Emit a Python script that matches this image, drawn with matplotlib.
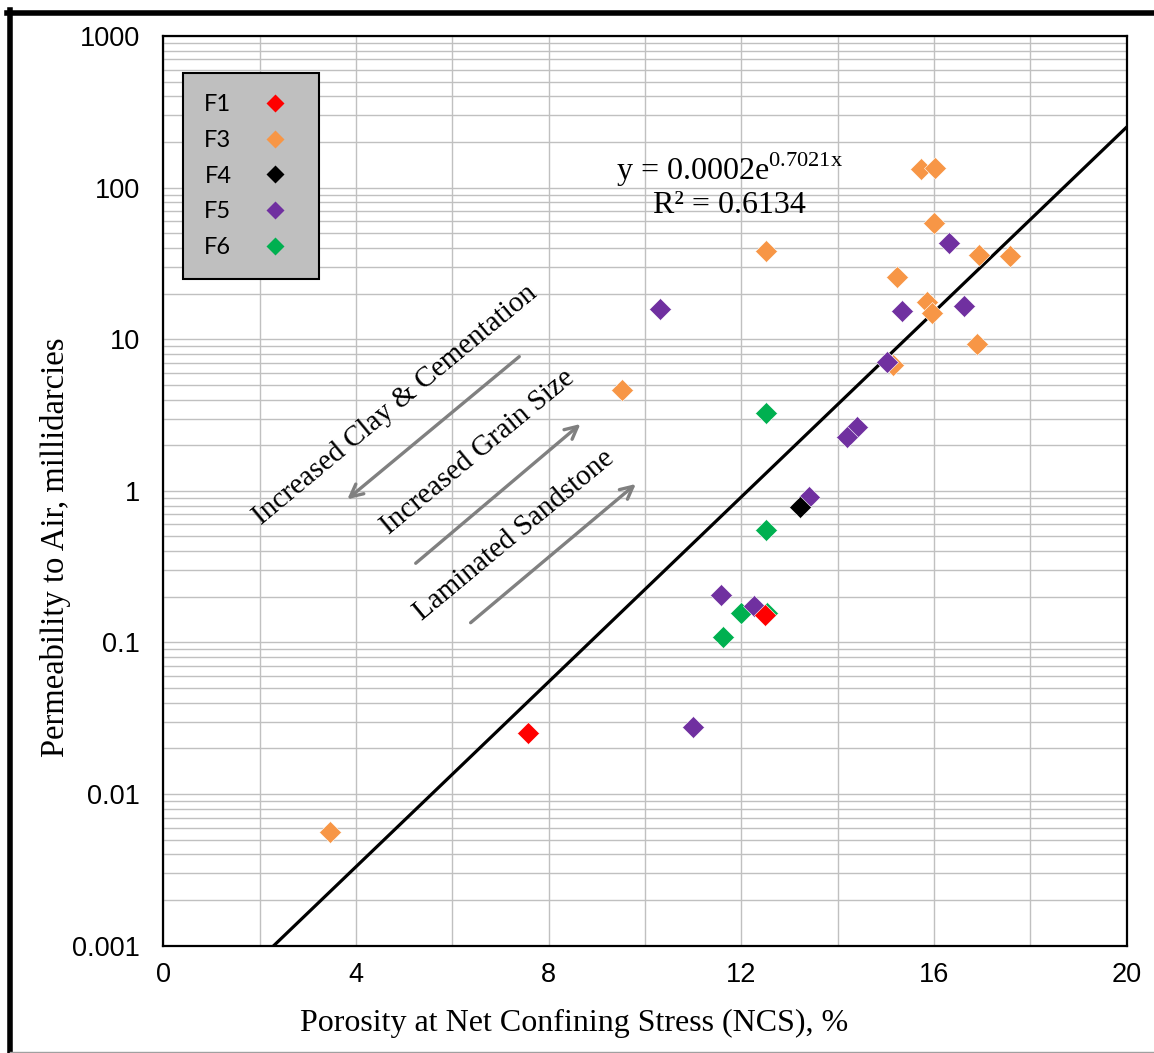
import numpy as np
import matplotlib
matplotlib.use("Agg")
import matplotlib.pyplot as plt
from matplotlib.lines import Line2D

# ---------------- data ----------------
f1_x = [12.49, 7.57]
f1_y = [0.152, 0.0253]

f3_x = [3.46, 9.52, 12.51, 15.23, 15.15, 15.74, 16.03, 15.99, 15.85, 15.96, 16.93, 17.58, 16.90]
f3_y = [0.00562, 4.63, 38.4, 25.6, 6.76, 132, 134, 58.2, 17.5, 14.9, 36.0, 35.6, 9.27]

f4_x = [13.22]
f4_y = [0.78]

f5_x = [10.31, 15.33, 16.32, 16.62, 15.03, 14.41, 14.19, 13.40, 11.57, 12.26, 11.00]
f5_y = [15.8, 15.4, 43.4, 16.6, 7.11, 2.65, 2.26, 0.916, 0.206, 0.175, 0.0279]

f6_x = [12.51, 12.51, 11.99, 12.53, 11.62]
f6_y = [3.25, 0.552, 0.157, 0.157, 0.109]

series_names = ["F1", "F3", "F4", "F5", "F6"]
series_colors = ["#FF0000", "#F79646", "#000000", "#7030A0", "#00B050"]

trend_a = 0.0002
trend_b = 0.7021
trend_r2 = 0.6134

x_ticks = [0, 4, 8, 12, 16, 20]
y_ticks = [0.001, 0.01, 0.1, 1, 10, 100, 1000]
y_tick_labels = ["0.001", "0.01", "0.1", "1", "10", "100", "1000"]

# ---------------- figure ----------------
W, H = 1154, 1053
fig = plt.figure(figsize=(W / 100, H / 100), dpi=100)
ax = fig.add_axes([163.3 / W, 1 - 945.7 / H, 963.4 / W, 909.7 / H])

serif = "Liberation Serif"
sans = "Liberation Sans"
plt.rcParams["mathtext.fontset"] = "custom"
plt.rcParams["mathtext.rm"] = serif

ax.set_yscale("log")
ax.set_xlim(0, 20)
ax.set_ylim(0.001, 1000)

# grid
ax.set_xticks(x_ticks)
ax.set_xticks([2, 6, 10, 14, 18], minor=True)
ax.set_yticks(y_ticks)
ax.set_yticklabels(y_tick_labels)
ax.yaxis.set_minor_locator(matplotlib.ticker.LogLocator(base=10, subs=np.arange(2, 10), numticks=50))
ax.yaxis.set_minor_formatter(matplotlib.ticker.NullFormatter())
ax.grid(True, which="both", color="#C0C0C0", linewidth=1.0, zorder=0)
ax.set_axisbelow(True)
ax.tick_params(which="both", length=0)
ax.tick_params(axis="y", pad=17, labelsize=19.5)
ax.tick_params(axis="x", pad=12, labelsize=19.5)
for lab in ax.get_xticklabels() + ax.get_yticklabels():
    lab.set_fontfamily(sans)
for sp in ax.spines.values():
    sp.set_linewidth(1.6)
    sp.set_color("black")

# trend line
xt = np.linspace(0, 20, 400)
ax.plot(xt, trend_a * np.exp(trend_b * xt), color="black", lw=2.3, zorder=2)

# series (drawn so that overlaps resemble the original)
data = {
    "F1": (f1_x, f1_y),
    "F3": (f3_x, f3_y),
    "F4": (f4_x, f4_y),
    "F5": (f5_x, f5_y),
    "F6": (f6_x, f6_y),
}
zorders = {"F6": 3, "F3": 4, "F5": 5, "F4": 6, "F1": 7}
handles = []
for name, col in zip(series_names, series_colors):
    xs, ys = data[name]
    ax.plot(xs, ys, linestyle="none", marker="D", ms=11.5, color=col,
            markeredgecolor="white", markeredgewidth=0.4, zorder=zorders[name])
    handles.append(Line2D([], [], linestyle="none", marker="D", ms=9.6, color=col,
                          markeredgecolor="none"))

leg = ax.legend(handles, series_names, loc="upper left",
                bbox_to_anchor=((183 - 163.3) / 963.4, (945.7 - 73) / 909.7),
                borderaxespad=0, markerfirst=False, frameon=True, fancybox=False,
                borderpad=0.9, handlelength=1.95, handletextpad=0.85,
                labelspacing=0.62, prop={"family": "Lato", "size": 17})
leg.get_frame().set_facecolor("#BFBFBF")
leg.get_frame().set_edgecolor("black")
leg.get_frame().set_linewidth(1.5)
leg.get_frame().set_alpha(1)
leg.set_zorder(10)

# equation
ax.text(11.76, 112, r"y = 0.0002e$^{\mathrm{0.7021x}}$", fontfamily=serif, fontsize=23,
        ha="center", va="baseline", zorder=8)
ax.text(11.76, 68, r"R² = 0.6134", fontfamily=serif, fontsize=23,
        ha="center", va="baseline", zorder=8)

# annotation arrows
arrow_kw = dict(arrowstyle="->,head_length=0.9,head_width=0.45", color="#808080", lw=2.4,
                shrinkA=0, shrinkB=0)
ax.annotate("", xy=(3.82, 0.88), xytext=(7.39, 7.68), arrowprops=arrow_kw, zorder=6)
ax.annotate("", xy=(8.66, 2.76), xytext=(5.24, 0.333), arrowprops=arrow_kw, zorder=6)
ax.annotate("", xy=(9.81, 1.11), xytext=(6.38, 0.135), arrowprops=arrow_kw, zorder=6)

rot = 39.7
ax.text(4.81, 3.69, "Increased Clay & Cementation", fontfamily=serif, fontsize=21,
        rotation=rot, rotation_mode="anchor", ha="center", va="center", zorder=6)
ax.text(6.53, 1.81, "Increased Grain Size", fontfamily=serif, fontsize=21,
        rotation=rot, rotation_mode="anchor", ha="center", va="center", zorder=6)
ax.text(7.28, 0.512, "Laminated Sandstone", fontfamily=serif, fontsize=21,
        rotation=rot, rotation_mode="anchor", ha="center", va="center", zorder=6)

# axis labels
ax.set_xlabel("Porosity at Net Confining Stress (NCS), %", fontfamily=serif, fontsize=23)
ax.xaxis.set_label_coords((574 - 163.3) / 963.4, (945.7 - 1009) / 909.7)
ax.set_ylabel("Permeability to Air, millidarcies", fontfamily=serif, fontsize=23.5)
ax.yaxis.set_label_coords((71 - 163.3) / 963.4, (945.7 - 547) / 909.7)

# outer chart frame
fig.add_artist(Line2D([7 / W, 1], [1 - 12.5 / H, 1 - 12.5 / H], transform=fig.transFigure,
                      color="black", lw=4.0))
fig.add_artist(Line2D([9.5 / W, 9.5 / W], [1 - 10 / H, 0], transform=fig.transFigure,
                      color="black", lw=4.0))
fig.add_artist(Line2D([9.5 / W, 1], [1 - 1051.5 / H, 1 - 1051.5 / H], transform=fig.transFigure,
                      color="#A0A0A0", lw=1.0))

fig.savefig("out.png", dpi=100)
